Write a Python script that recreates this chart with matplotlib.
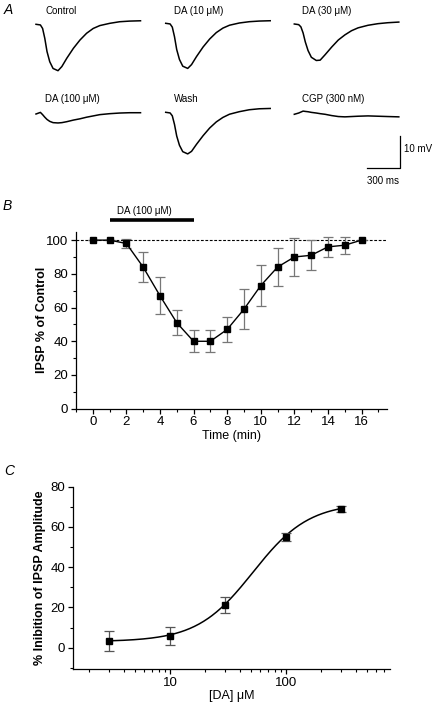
import numpy as np
import matplotlib
matplotlib.use("Agg")
import matplotlib.pyplot as plt
from matplotlib.ticker import MultipleLocator, FixedLocator, NullFormatter

plt.rcParams['font.family'] = ['Liberation Sans', 'DejaVu Sans']

# ---------------- Data ----------------
# Panel A: traces (ms, mV)
trace_t = [0, 40, 60, 80, 100, 125, 155, 200, 235, 280, 340, 400, 460, 520, 580, 670, 760, 850, 950]
trace_control = [0, -0.2, -1.3, -4.4, -8.5, -11.7, -13.8, -14.5, -13.2, -10.6, -7.5, -4.9, -2.8, -1.3, -0.4, 0.3, 0.8, 1.0, 1.1]
trace_da10 = [0, -0.2, -1.2, -4.2, -8.2, -11.3, -13.4, -14.1, -12.9, -10.4, -7.4, -4.9, -2.9, -1.5, -0.6, 0.1, 0.5, 0.7, 0.8]
trace_da30 = [0, -0.2, -0.9, -2.8, -5.6, -8.3, -10.4, -11.4, -11.3, -9.6, -7.2, -5.0, -3.4, -2.1, -1.2, -0.4, 0.1, 0.4, 0.6]
trace_da100 = [0, 0.5, -0.2, -1.0, -1.7, -2.3, -2.7, -2.8, -2.7, -2.4, -1.9, -1.5, -1.0, -0.6, -0.2, 0.1, 0.3, 0.4, 0.4]
trace_wash = [0, -0.2, -1.1, -3.8, -7.4, -10.3, -12.3, -13.0, -12.2, -10.0, -7.3, -4.9, -3.0, -1.6, -0.6, 0.2, 0.8, 1.1, 1.2]
trace_cgp = [0, 0.4, 0.7, 1.0, 0.9, 0.8, 0.6, 0.4, 0.2, 0.0, -0.4, -0.7, -0.8, -0.7, -0.6, -0.5, -0.6, -0.7, -0.8]
trace_labels = ["Control", "DA (10 \u03bcM)", "DA (30 \u03bcM)", "DA (100 \u03bcM)", "Wash", "CGP (300 nM)"]
scale_mv = 10
scale_ms = 300

# Panel B: time course
time_min = [0, 1, 2, 3, 4, 5, 6, 7, 8, 9, 10, 11, 12, 13, 14, 15, 16]
ipsp_pct = [100, 100, 98, 84, 67, 51, 40, 40, 47, 59, 73, 84, 90, 91, 96, 97, 100]
ipsp_err = [0, 0, 2.5, 9, 11, 7.5, 6.5, 6.5, 7.5, 12, 12, 11.5, 11, 9, 6, 5, 0]
da_bar = [1, 6]
da_label = "DA (100 \u03bcM)"

# Panel C: concentration-response
conc = [3, 10, 30, 100, 300]
inhib = [3.5, 6, 21, 55, 69]
inhib_err = [5, 4.5, 4, 2, 1.5]
hill_bottom, hill_top, hill_ec50, hill_n = 3, 72, 52, 1.8

# ---------------- Figure ----------------
W, H = 436, 704
fig = plt.figure(figsize=(W / 100, H / 100), dpi=100)

def fx(px):
    return px / W

def fy(py):
    return 1 - py / H

# ---- Panel A ----
ms_per_px = 9.09
px_per_mv = 3.2
A_h = 195
axA = fig.add_axes([0, fy(A_h), 1, A_h / H])
axA.set_xlim(0, W * ms_per_px)
axA.set_ylim(-A_h / px_per_mv, 0)
axA.axis('off')

traces = [trace_control, trace_da10, trace_da30, trace_da100, trace_wash, trace_cgp]
col_px = [36, 165.7, 294.3, 36, 165.7, 294.3]
base_px = [24.3, 23.3, 24.0, 114.0, 112.3, 114.3]
label_px = [(45, 10.7), (174, 10.7), (302, 10.7), (45, 99), (174, 99), (302, 99)]
for tr, cx, by, lab, (lx, ly) in zip(traces, col_px, base_px, trace_labels, label_px):
    t = np.array(trace_t) + cx * ms_per_px
    v = np.array(tr) - by / px_per_mv
    axA.plot(t, v, color='black', lw=1.1, solid_joinstyle='round')
    fig.text(fx(lx), fy(ly), lab, fontsize=7, ha='left', va='center')

# scale bar
sb_x = 400 * ms_per_px
sb_y = -168.3 / px_per_mv
axA.plot([sb_x - scale_ms, sb_x, sb_x], [sb_y, sb_y, sb_y + scale_mv], color='black', lw=0.9)
fig.text(fx(404), fy(149), "%d mV" % scale_mv, fontsize=7, ha='left', va='center')
fig.text(fx(383), fy(181), "%d ms" % scale_ms, fontsize=7, ha='center', va='center')

fig.text(fx(4), fy(10), "A", fontsize=10, style='italic', ha='left', va='center')
fig.text(fx(3), fy(206), "B", fontsize=10, style='italic', ha='left', va='center')
fig.text(fx(4), fy(470.7), "C", fontsize=10, style='italic', ha='left', va='center')

def style_axes(ax):
    for s in ['top', 'right']:
        ax.spines[s].set_visible(False)
    for s in ['left', 'bottom']:
        ax.spines[s].set_linewidth(0.9)
    ax.tick_params(which='major', direction='out', length=3.5, width=0.9, labelsize=9.5, pad=2)
    ax.tick_params(which='minor', direction='out', length=2, width=0.8)

# ---- Panel B ----
axB = fig.add_axes([fx(76), fy(408.7), (386.7 - 76) / W, (408.7 - 231.7) / H])
style_axes(axB)
axB.set_xlim(-1, 17.5)
axB.set_ylim(0, 105)
axB.xaxis.set_major_locator(MultipleLocator(2))
axB.xaxis.set_minor_locator(MultipleLocator(1))
axB.yaxis.set_major_locator(MultipleLocator(20))
axB.yaxis.set_minor_locator(MultipleLocator(10))
axB.axhline(100, color='black', lw=0.8, ls=(0, (2.5, 1.5)), zorder=1)
axB.errorbar(time_min, ipsp_pct, yerr=ipsp_err, fmt='none', ecolor='#777777',
             elinewidth=0.9, capsize=3.5, capthick=0.9, zorder=2)
axB.plot(time_min, ipsp_pct, color='black', lw=1.0, marker='s', markersize=3.8, zorder=3)
axB.plot(da_bar, [112, 112], color='black', lw=2.6, clip_on=False, solid_capstyle='butt')
axB.text(1.45, 117, da_label, fontsize=7, ha='left', va='center')
axB.set_xlabel("Time (min)", fontsize=9, labelpad=1)
axB.set_ylabel("IPSP % of Control", fontsize=9, fontweight='bold', labelpad=-1)

# ---- Panel C ----
axC = fig.add_axes([fx(72.7), fy(669), (390 - 72.7) / W, (669 - 486.7) / H])
style_axes(axC)
axC.set_xscale('log')
axC.set_xlim(1.45, 790)
axC.set_ylim(-10.6, 80)
axC.spines['left'].set_bounds(-10.6, 80)
axC.xaxis.set_major_locator(FixedLocator([10, 100]))
axC.xaxis.set_minor_locator(FixedLocator([2, 3, 4, 5, 6, 7, 8, 9, 20, 30, 40, 50, 60, 70, 80, 90,
                                          200, 300, 400, 500, 600, 700]))
axC.xaxis.set_minor_formatter(NullFormatter())
axC.set_xticklabels(["10", "100"])
axC.yaxis.set_major_locator(MultipleLocator(20))
axC.yaxis.set_minor_locator(MultipleLocator(10))
xc = np.logspace(np.log10(conc[0]), np.log10(conc[-1]), 200)
yc = hill_bottom + (hill_top - hill_bottom) / (1 + (hill_ec50 / xc) ** hill_n)
axC.plot(xc, yc, color='black', lw=1.1, zorder=2)
axC.errorbar(conc, inhib, yerr=inhib_err, fmt='none', ecolor='#555555',
             elinewidth=0.9, capsize=3.5, capthick=0.9, zorder=3)
axC.plot(conc, inhib, ls='none', color='black', marker='s', markersize=4, zorder=4)
axC.set_xlabel("[DA] \u03bcM", fontsize=9, labelpad=1)
axC.set_ylabel("% Inibition of IPSP Amplitude", fontsize=9, fontweight='bold', labelpad=3)

fig.savefig("out.png", dpi=100)
